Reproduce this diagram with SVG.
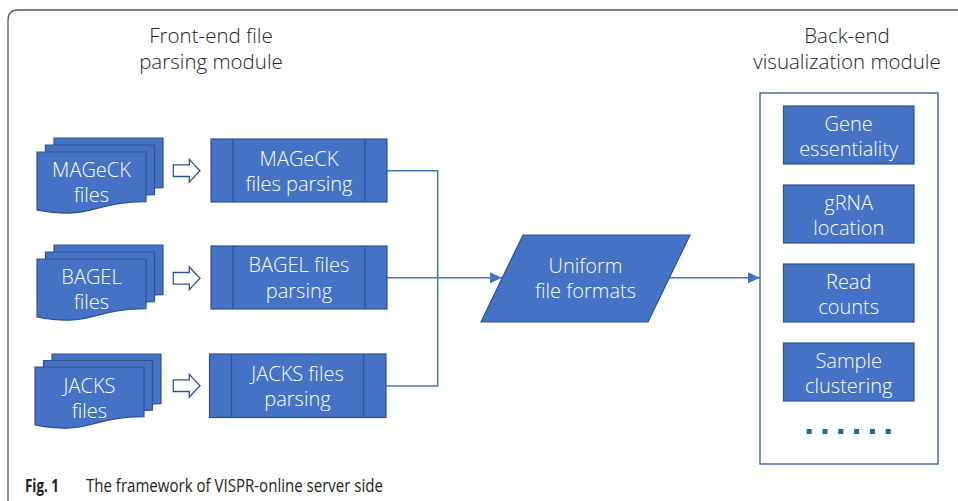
<svg xmlns="http://www.w3.org/2000/svg" width="958" height="501" viewBox="0 0 958 501">
<style>
.frame{fill:none;stroke:#595959;stroke-width:1.3}
.hdr{font-family:"Open Sans","Noto Sans",sans-serif;font-weight:300;font-size:20.5px;fill:#262626;text-anchor:middle}
.node{fill:#4472C4;stroke:#2F528F;stroke-width:1.2}
.div{fill:none;stroke:#2F528F;stroke-width:1.2}
.lbl{font-family:"Open Sans","Noto Sans",sans-serif;font-weight:300;font-size:20px;fill:#ffffff;text-anchor:middle}
.barrow{fill:#ffffff;stroke:#2F5597;stroke-width:1.3}
.conn{fill:none;stroke:#4472C4;stroke-width:1.5}
.cont{fill:none;stroke:#2F5597;stroke-width:1.3}
.cap{font-family:"Open Sans","Noto Sans",sans-serif;font-size:18px;fill:#231f20}
</style>
<defs>
<path id="doc" d="M0,0 H109 V49.7 C54.5,49.7 54.5,68.6 0,57.9 Z"/>
<path id="barr" d="M0,-5.8 H16 V-11.3 L26.7,0 L16,11.3 V5.8 H0 Z"/>
<marker id="ah" markerUnits="userSpaceOnUse" markerWidth="13" markerHeight="12" refX="12" refY="5.5" orient="auto">
<path d="M0,0 L12,5.5 L0,11 Z" fill="#4472C4"/>
</marker>
</defs>

<path class="frame" d="M8,501 V20 Q8,10 18,10 H958"/>

<text class="hdr" x="211" y="42.5">Front-end file</text>
<text class="hdr" x="211" y="68.5">parsing module</text>
<text class="hdr" x="847" y="43">Back-end</text>
<text class="hdr" x="847" y="68.5">visualization module</text>

<g id="connectors">
<polyline class="conn" points="387,170.7 437.7,170.7 437.7,386 386,386"/>
<line class="conn" x1="387" y1="277.7" x2="502" y2="277.7" marker-end="url(#ah)"/>
<line class="conn" x1="669" y1="277.7" x2="760" y2="277.7" marker-end="url(#ah)"/>
<use href="#barr" class="barrow" x="173.3" y="170.7"/>
<use href="#barr" class="barrow" x="173.3" y="278.3"/>
<use href="#barr" class="barrow" x="173.3" y="385.7"/>
</g>

<g id="mageck-files">
<use href="#doc" class="node" x="54" y="138"/>
<use href="#doc" class="node" x="45.5" y="145"/>
<use href="#doc" class="node" x="37" y="152"/>
<text class="lbl" x="91.5" y="176.7">MAGeCK</text>
<text class="lbl" x="91.5" y="201.7">files</text>
</g>
<g id="bagel-files">
<use href="#doc" class="node" x="54" y="245"/>
<use href="#doc" class="node" x="45.5" y="252"/>
<use href="#doc" class="node" x="37" y="259"/>
<text class="lbl" x="91.5" y="284.3">BAGEL</text>
<text class="lbl" x="91.5" y="309.3">files</text>
</g>
<g id="jacks-files">
<use href="#doc" class="node" x="52" y="354"/>
<use href="#doc" class="node" x="43.5" y="360.5"/>
<use href="#doc" class="node" x="35" y="367"/>
<text class="lbl" x="89.5" y="392.7">JACKS</text>
<text class="lbl" x="89.5" y="417.7">files</text>
</g>

<g id="mageck-parsing">
<rect class="node" x="211" y="139" width="176" height="63"/>
<line class="div" x1="233" y1="139" x2="233" y2="202"/>
<line class="div" x1="365" y1="139" x2="365" y2="202"/>
<text class="lbl" x="299" y="165.5">MAGeCK</text>
<text class="lbl" x="299" y="191">files parsing</text>
</g>
<g id="bagel-parsing">
<rect class="node" x="211" y="246" width="176" height="63"/>
<line class="div" x1="233" y1="246" x2="233" y2="309"/>
<line class="div" x1="365" y1="246" x2="365" y2="309"/>
<text class="lbl" x="299" y="272">BAGEL files</text>
<text class="lbl" x="299" y="297.5">parsing</text>
</g>
<g id="jacks-parsing">
<rect class="node" x="209.5" y="354" width="176.5" height="63.5"/>
<line class="div" x1="231.5" y1="354" x2="231.5" y2="417.5"/>
<line class="div" x1="363.5" y1="354" x2="363.5" y2="417.5"/>
<text class="lbl" x="297.5" y="380.5">JACKS files</text>
<text class="lbl" x="297.5" y="406">parsing</text>
</g>

<g id="uniform">
<polygon class="node" points="523,235 690,235 648,322 481,322"/>
<text class="lbl" x="585.5" y="273.3">Uniform</text>
<text class="lbl" x="585.5" y="298.3">file formats</text>
</g>

<g id="backend">
<rect class="cont" x="760" y="93" width="178" height="371"/>
</g>
<g id="gene">
<rect class="node" x="783.5" y="106" width="130.5" height="58"/>
<text class="lbl" x="848.7" y="130.5">Gene</text>
<text class="lbl" x="848.7" y="156">essentiality</text>
</g>
<g id="grna">
<rect class="node" x="783.5" y="185" width="130.5" height="58"/>
<text class="lbl" x="848.7" y="209.5">gRNA</text>
<text class="lbl" x="848.7" y="235">location</text>
</g>
<g id="read">
<rect class="node" x="783.5" y="264" width="130.5" height="58"/>
<text class="lbl" x="848.7" y="288.5">Read</text>
<text class="lbl" x="848.7" y="314">counts</text>
</g>
<g id="sample">
<rect class="node" x="783.5" y="343" width="130.5" height="58"/>
<text class="lbl" x="848.7" y="367.5">Sample</text>
<text class="lbl" x="848.7" y="393">clustering</text>
</g>
<g id="dots" fill="#0070C0">
<rect x="806.7" y="429" width="5" height="5"/>
<rect x="822.5" y="429" width="5" height="5"/>
<rect x="838.3" y="429" width="5" height="5"/>
<rect x="854.1" y="429" width="5" height="5"/>
<rect x="869.9" y="429" width="5" height="5"/>
<rect x="885.7" y="429" width="5" height="5"/>
</g>

<text class="cap" x="25" y="491.7" font-weight="bold" textLength="34" lengthAdjust="spacingAndGlyphs">Fig. 1</text>
<text class="cap" x="86" y="491.7" textLength="297" lengthAdjust="spacingAndGlyphs">The framework of VISPR-online server side</text>
</svg>
